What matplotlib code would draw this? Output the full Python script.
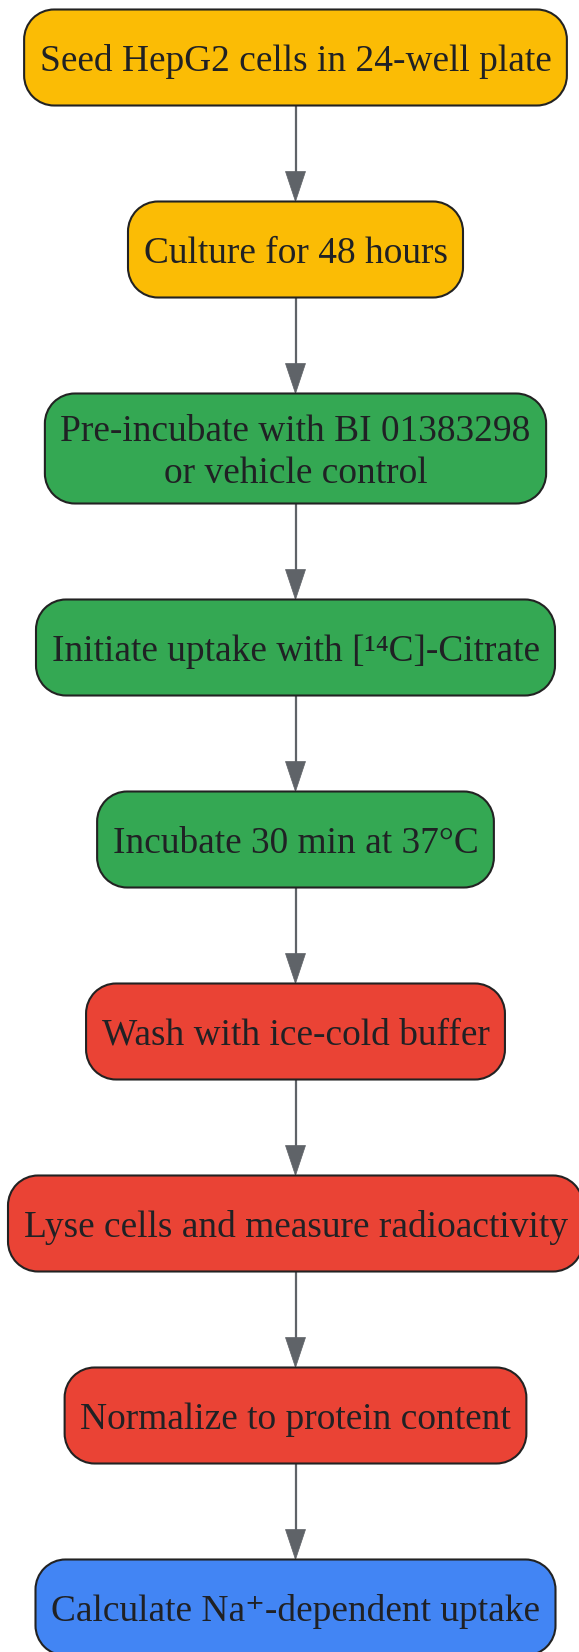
import matplotlib
matplotlib.use("Agg")
import matplotlib.pyplot as plt
from matplotlib.patches import PathPatch, Polygon
from matplotlib.path import Path

# ---- data ----
steps = [
    "Seed HepG2 cells in 24-well plate",
    "Culture for 48 hours",
    "Pre-incubate with BI 01383298\nor vehicle control",
    "Initiate uptake with [\u00b9\u2074C]-Citrate",
    "Incubate 30 min at 37\u00b0C",
    "Wash with ice-cold buffer",
    "Lyse cells and measure radioactivity",
    "Normalize to protein content",
    "Calculate Na\u207a-dependent uptake",
]
fill_colors = ["#FBBC05", "#FBBC05", "#34A853", "#34A853", "#34A853",
               "#EA4335", "#EA4335", "#EA4335", "#4285F4"]

# ---- style / layout ----
W, H = 579, 1652
DPI = 100
CX = 295.5
TOP0 = 9.5
BOX_H1 = 96.0
EXTRA_LINE = 14.0
GAP = 96.0
PAD_X = 15.5
RADIUS = 30.0
TEXT_DY = 4.0
FONT = ["Liberation Serif", "DejaVu Serif"]
FS = 26.9
EDGE = "#222222"
ARROW = "#5F6368"
TEXT = "#202124"


def rounded_rect(x0, y0, w, h, r):
    x1, y1 = x0 + w, y0 + h
    verts = [(x0 + r, y0)]
    codes = [Path.MOVETO]
    corners = [((x1 - r, y0), (x1 - r, y0 + r), 270, 360),
               ((x1, y1 - r), (x1 - r, y1 - r), 0, 90),
               ((x0 + r, y1), (x0 + r, y1 - r), 90, 180),
               ((x0, y0 + r), (x0 + r, y0 + r), 180, 270)]
    for lstart, (cx, cy), a1, a2 in corners:
        verts.append(lstart)
        codes.append(Path.LINETO)
        arc = Path.arc(a1, a2)
        for (vx, vy), c in zip(arc.vertices[1:], arc.codes[1:]):
            verts.append((cx + r * vx, cy + r * vy))
            codes.append(c)
    verts.append((x0 + r, y0))
    codes.append(Path.CLOSEPOLY)
    return Path(verts, codes)


fig = plt.figure(figsize=(W / DPI, H / DPI), dpi=DPI)
ax = fig.add_axes([0, 0, 1, 1])
ax.set_xlim(0, W)
ax.set_ylim(H, 0)
ax.axis("off")
fig.canvas.draw()
renderer = fig.canvas.get_renderer()

y = TOP0
prev_bottom = None
for label, col in zip(steps, fill_colors):
    nlines = label.count("\n") + 1
    bh = BOX_H1 + EXTRA_LINE * (nlines - 1)
    cy = y + bh / 2
    t = ax.text(CX, cy + TEXT_DY, label, ha="center", va="center", fontsize=FS,
                family=FONT, color=TEXT, linespacing=1.3, zorder=4)
    bb = t.get_window_extent(renderer=renderer)
    bw = bb.width + 2 * PAD_X
    ax.add_patch(PathPatch(rounded_rect(CX - bw / 2, y, bw, bh, RADIUS),
                           facecolor=col, edgecolor=EDGE, linewidth=1.5, zorder=3))
    if prev_bottom is not None:
        head_len = 30
        head_w = 10
        ax.plot([CX, CX], [prev_bottom, y - head_len + 2], color=ARROW,
                lw=1.6, zorder=2, solid_capstyle="butt")
        ax.add_patch(Polygon([[CX - head_w, y - head_len], [CX + head_w, y - head_len],
                              [CX, y]], closed=True, facecolor=ARROW,
                             edgecolor=ARROW, lw=0.5, zorder=2))
    prev_bottom = y + bh
    y = y + bh + GAP

fig.savefig("out.png", dpi=DPI, facecolor="white")
